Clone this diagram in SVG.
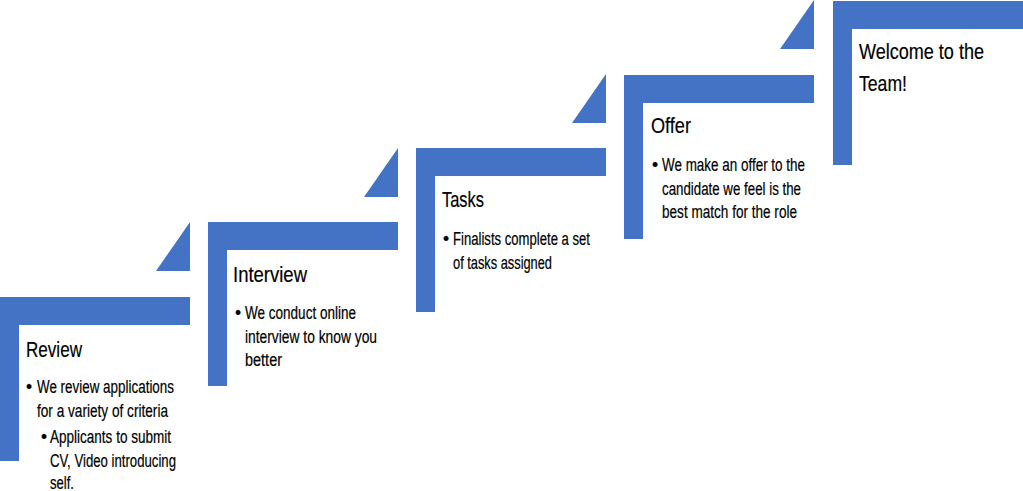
<svg xmlns="http://www.w3.org/2000/svg" xmlns:xlink="http://www.w3.org/1999/xlink" width="1023" height="491" viewBox="0 0 1023 491">
<style>
.step{fill:#4472C4}
.tri{fill:#4472C4}
.t{font-family:"Liberation Sans",Arial,sans-serif;font-size:22px;fill:#000;stroke:#000;stroke-width:0.2}
.b{font-family:"Liberation Sans",Arial,sans-serif;font-size:17.5px;fill:#000;stroke:#000;stroke-width:0.2}
</style>
<defs>
<path id="stepShape" d="M0,0 h190 v28 h-171 v136 h-19 z"/>
<path id="triShape" d="M0,49 h34 v-49 z"/>
</defs>
<rect width="1023" height="491" fill="#fff"/>
<g id="connectors">
<use xlink:href="#triShape" class="tri" x="156" y="222"/>
<use xlink:href="#triShape" class="tri" x="364" y="148"/>
<use xlink:href="#triShape" class="tri" x="572" y="74"/>
<use xlink:href="#triShape" class="tri" x="780" y="0"/>
</g>
<g id="review">
<use xlink:href="#stepShape" class="step" x="0" y="297"/>
<text class="t" x="26" y="357" textLength="56" lengthAdjust="spacingAndGlyphs">Review</text>
<text class="b" x="26" y="393">•</text>
<text class="b" x="37" y="393" textLength="137" lengthAdjust="spacingAndGlyphs">We review applications</text>
<text class="b" x="37" y="417" textLength="131" lengthAdjust="spacingAndGlyphs">for a variety of criteria</text>
<text class="b" x="41" y="443">•</text>
<text class="b" x="50" y="443" textLength="121" lengthAdjust="spacingAndGlyphs">Applicants to submit</text>
<text class="b" x="50" y="467" textLength="126" lengthAdjust="spacingAndGlyphs">CV, Video introducing</text>
<text class="b" x="50" y="489" textLength="24" lengthAdjust="spacingAndGlyphs">self.</text>
</g>
<g id="interview">
<use xlink:href="#stepShape" class="step" x="208" y="222"/>
<text class="t" x="233" y="282" textLength="74" lengthAdjust="spacingAndGlyphs">Interview</text>
<text class="b" x="235" y="319">•</text>
<text class="b" x="245" y="319" textLength="111" lengthAdjust="spacingAndGlyphs">We conduct online</text>
<text class="b" x="245" y="343" textLength="132" lengthAdjust="spacingAndGlyphs">interview to know you</text>
<text class="b" x="245" y="366" textLength="37" lengthAdjust="spacingAndGlyphs">better</text>
</g>
<g id="tasks">
<use xlink:href="#stepShape" class="step" x="416" y="148"/>
<text class="t" x="442" y="207" textLength="42" lengthAdjust="spacingAndGlyphs">Tasks</text>
<text class="b" x="443" y="245">•</text>
<text class="b" x="453" y="245" textLength="137" lengthAdjust="spacingAndGlyphs">Finalists complete a set</text>
<text class="b" x="453" y="269" textLength="99" lengthAdjust="spacingAndGlyphs">of tasks assigned</text>
</g>
<g id="offer">
<use xlink:href="#stepShape" class="step" x="624" y="75"/>
<text class="t" x="651" y="133" textLength="40" lengthAdjust="spacingAndGlyphs">Offer</text>
<text class="b" x="652" y="171">•</text>
<text class="b" x="662" y="171" textLength="143" lengthAdjust="spacingAndGlyphs">We make an offer to the</text>
<text class="b" x="662" y="195" textLength="139" lengthAdjust="spacingAndGlyphs">candidate we feel is the</text>
<text class="b" x="662" y="218" textLength="135" lengthAdjust="spacingAndGlyphs">best match for the role</text>
</g>
<g id="welcome">
<use xlink:href="#stepShape" class="step" x="833" y="1"/>
<text class="t" x="859" y="59" textLength="125" lengthAdjust="spacingAndGlyphs">Welcome to the</text>
<text class="t" x="859" y="91" textLength="48" lengthAdjust="spacingAndGlyphs">Team!</text>
</g>
</svg>
